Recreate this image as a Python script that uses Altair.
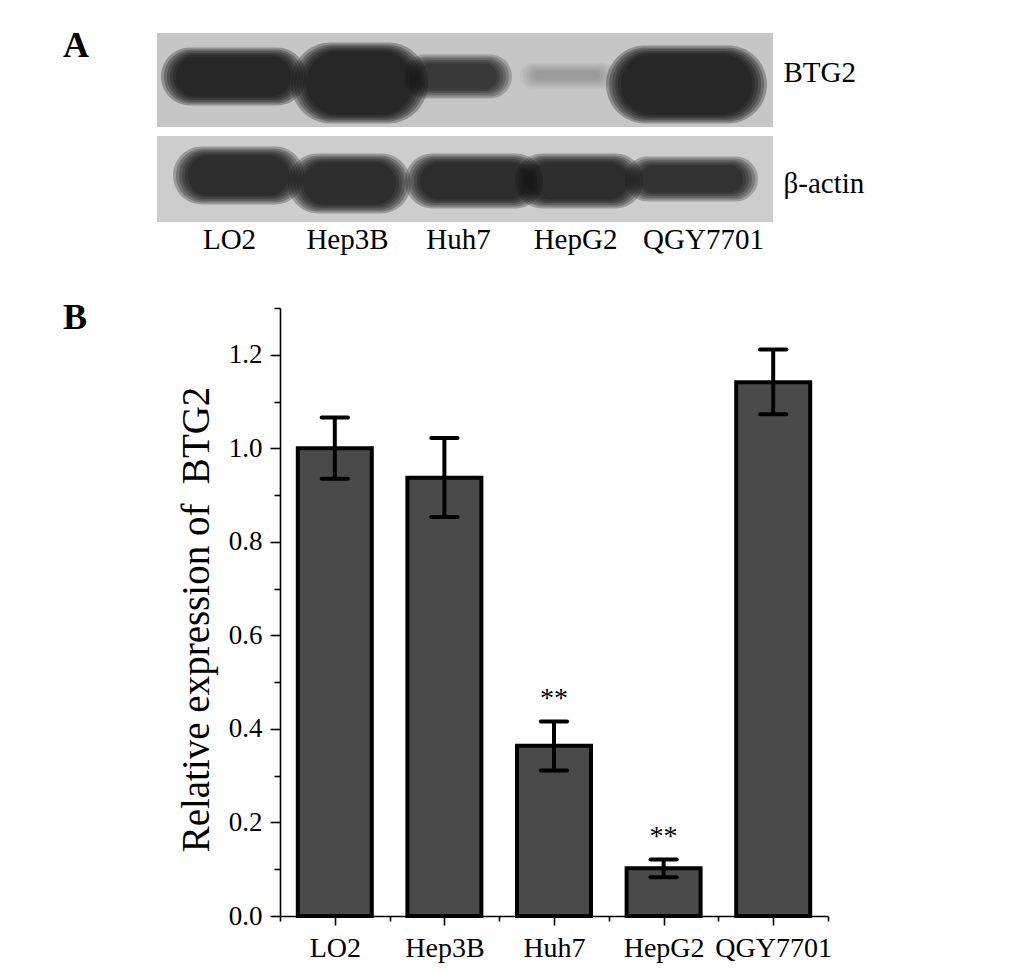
import json
import altair as alt
import pandas as pd

SERIF = "Liberation Serif"

# ---------------- Panel B: bar chart data ----------------
categories = ["LO2", "Hep3B", "Huh7", "HepG2", "QGY7701"]
expression = [1.000, 0.937, 0.364, 0.102, 1.141]
err_low = [0.935, 0.853, 0.311, 0.083, 1.073]
err_high = [1.066, 1.022, 0.416, 0.121, 1.211]
significance = ["", "", "**", "**", ""]
y_tick_values = [0.0, 0.1, 0.2, 0.3, 0.4, 0.5, 0.6, 0.7, 0.8, 0.9, 1.0, 1.1, 1.2, 1.3]
x_tick_values = [0, 0.5, 1, 1.5, 2, 2.5, 3, 3.5, 4, 4.5, 5]

# ---------------- Panel A: western blot data ----------------
lane_labels = ["LO2", "Hep3B", "Huh7", "HepG2", "QGY7701"]
lane_label_pos = [72, 190, 301, 418, 546]
blot_rows = ["BTG2", "β-actin"]
row_label_pos = [39, 150]
row_top = [0, 103]
row_bottom = [94, 189]
row_shade = ["#c6c6c6", "#cdcdcd"]

btg2_x1 = [13, 143, 255, 372, 458]
btg2_x2 = [140, 262, 346, 449, 601]
btg2_y1 = [20, 15, 27, 35, 18]
btg2_y2 = [67, 85, 60, 50, 85]
btg2_intensity = [1.0, 1.0, 0.75, 0.15, 1.0]

actin_x1 = [25, 140, 257, 367, 477]
actin_x2 = [138, 245, 377, 477, 592]
actin_y1 = [119, 126, 126, 126, 129]
actin_y2 = [166, 175, 170, 170, 163]
actin_intensity = [0.9, 0.9, 0.9, 0.9, 0.85]

# ================= Panel A =================
box_df = pd.DataFrame({
    "row": blot_rows,
    "x1": [0, 0], "x2": [616, 616],
    "y1": row_top, "y2": row_bottom,
    "shade": row_shade,
})
band_df = pd.concat([
    pd.DataFrame({"lane": lane_labels, "x1": btg2_x1, "x2": btg2_x2,
                  "y1": btg2_y1, "y2": btg2_y2, "I": btg2_intensity}),
    pd.DataFrame({"lane": lane_labels, "x1": actin_x1, "x2": actin_x2,
                  "y1": actin_y1, "y2": actin_y2, "I": actin_intensity}),
], ignore_index=True)

# panel A's plot origin is shared with panel B's y-axis; the membrane starts 123 px further left
PANEL_A_W = 493
bx = alt.Scale(domain=[0, 616], range=[-123, PANEL_A_W], nice=False, zero=False)
by = alt.Scale(domain=[0, 189], nice=False, zero=False, reverse=True)

lane_expr = "{}[indexof({}, datum.value)]".format(json.dumps(lane_labels), json.dumps(lane_label_pos))
row_expr = "{}[indexof({}, datum.value)]".format(json.dumps(blot_rows, ensure_ascii=False), json.dumps(row_label_pos))

lane_axis = alt.Axis(values=lane_label_pos, labelExpr=lane_expr, ticks=False, domain=False,
                     grid=False, title=None, labelFont=SERIF, labelFontSize=29,
                     labelColor="black", labelPadding=3, labelOverlap=False,
                     labelFlush=False, labelBound=False)
row_axis = alt.Axis(values=row_label_pos, labelExpr=row_expr, orient="right", ticks=False,
                    domain=False, grid=False, title=None, labelFont=SERIF, labelFontSize=29,
                    labelColor="black", labelPadding=10, labelAlign="left",
                    labelBaseline="middle", labelOverlap=False, labelBound=False)

boxes = alt.Chart(box_df).mark_rect().encode(
    x=alt.X("x1:Q", scale=bx, axis=lane_axis),
    x2="x2:Q",
    y=alt.Y("y1:Q", scale=by, axis=row_axis),
    y2="y2:Q",
    color=alt.Color("shade:N", scale=None),
)

band_layers = []
for grow in [9, 6, 3, 0, -3, -6]:
    gv = grow * 0.6
    layer = alt.Chart(band_df).transform_calculate(
        bx1=f"datum.x1 - {grow}", bx2=f"datum.x2 + {grow}",
        by1=f"datum.y1 - {gv}", by2=f"datum.y2 + {gv}",
        op="datum.I * 0.3",
    ).mark_rect(color="#141414", cornerRadius=40).encode(
        x=alt.X("bx1:Q", scale=bx),
        x2="bx2:Q",
        y=alt.Y("by1:Q", scale=by),
        y2="by2:Q",
        opacity=alt.Opacity("op:Q", scale=None),
    )
    band_layers.append(layer)

letter_a = alt.Chart(pd.DataFrame({"t": ["A"]})).mark_text(
    align="left", baseline="alphabetic", font=SERIF, fontSize=36, fontWeight="bold",
    color="black", x=-217, y=24,
).encode(text="t:N")

panel_a = alt.layer(boxes, *band_layers, letter_a).properties(width=PANEL_A_W, height=189)

# ================= Panel B =================
bar_df = pd.DataFrame({
    "cat": categories,
    "pos": [i + 0.5 for i in range(len(categories))],
    "val": expression,
    "lo": err_low,
    "hi": err_high,
    "sig": significance,
})

xs = alt.Scale(domain=[0, 5], nice=False, zero=False)
ys = alt.Scale(domain=[0, 1.3], nice=False, zero=True)

x_label_expr = "(datum.value * 2) % 2 == 1 ? {}[floor(datum.value)] : ''".format(json.dumps(categories))
x_axis = alt.Axis(
    values=x_tick_values, labelExpr=x_label_expr, title=None, grid=False,
    domainColor="black", domainWidth=1.6, tickColor="black", tickWidth=1.6,
    tickSize={"condition": {"test": "datum.value % 1 == 0", "value": 5}, "value": 9},
    labelFont=SERIF, labelFontSize=28, labelColor="black", labelPadding=9,
    labelOverlap=False, labelFlush=False, labelBound=False,
)
y_label_expr = "round(datum.value * 10) % 2 == 0 ? format(datum.value, '.1f') : ''"
y_axis = alt.Axis(
    values=y_tick_values, labelExpr=y_label_expr,
    title="Relative expression of\u00a0 BTG2", titleFont=SERIF, titleFontSize=39,
    titleFontWeight="normal", titleColor="black", titlePadding=12, titleY=311,
    grid=False, domainColor="black", domainWidth=1.6, tickColor="black", tickWidth=1.6,
    tickSize={"condition": {"test": "round(datum.value * 10) % 2 == 1", "value": 6}, "value": 10},
    labelFont=SERIF, labelFontSize=27, labelColor="black", labelPadding=8,
    labelOverlap=False, labelFlush=False, labelBound=False,
)

base = alt.Chart(bar_df)
bars = base.transform_calculate(
    xa="datum.pos - 0.3375", xb="datum.pos + 0.3375"
).mark_bar(fill="#4a4a4a", stroke="black", strokeWidth=4).encode(
    x=alt.X("xa:Q", scale=xs, axis=x_axis),
    x2="xb:Q",
    y=alt.Y("val:Q", scale=ys, axis=y_axis),
    y2=alt.datum(0),
)
err_stem = base.mark_rule(color="black", strokeWidth=4).encode(
    x=alt.X("pos:Q", scale=xs), y=alt.Y("lo:Q", scale=ys), y2="hi:Q",
)
cap_hi = base.transform_calculate(
    ca="datum.pos - 0.12", cb="datum.pos + 0.12"
).mark_rule(color="black", strokeWidth=4, strokeCap="round").encode(
    x=alt.X("ca:Q", scale=xs), x2="cb:Q", y=alt.Y("hi:Q", scale=ys),
)
cap_lo = base.transform_calculate(
    ca="datum.pos - 0.12", cb="datum.pos + 0.12"
).mark_rule(color="black", strokeWidth=4, strokeCap="round").encode(
    x=alt.X("ca:Q", scale=xs), x2="cb:Q", y=alt.Y("lo:Q", scale=ys),
)
stars = base.mark_text(font=SERIF, fontSize=28, color="black", baseline="alphabetic", dy=-14).encode(
    x=alt.X("pos:Q", scale=xs), y=alt.Y("hi:Q", scale=ys), text="sig:N",
)
letter_b = alt.Chart(pd.DataFrame({"t": ["B"]})).mark_text(
    align="left", baseline="alphabetic", font=SERIF, fontSize=36, fontWeight="bold",
    color="black", x=-217, y=21,
).encode(text="t:N")

panel_b = alt.layer(bars, err_stem, cap_hi, cap_lo, stars, letter_b).properties(width=548, height=608)

chart = alt.concat(panel_a, panel_b, columns=1, spacing=40).properties(
    padding={"left": 55, "top": 20, "right": 10, "bottom": 5},
    background="white",
).configure_view(stroke=None)

chart.save("out.html", embed_options={"renderer": "svg", "actions": False})
